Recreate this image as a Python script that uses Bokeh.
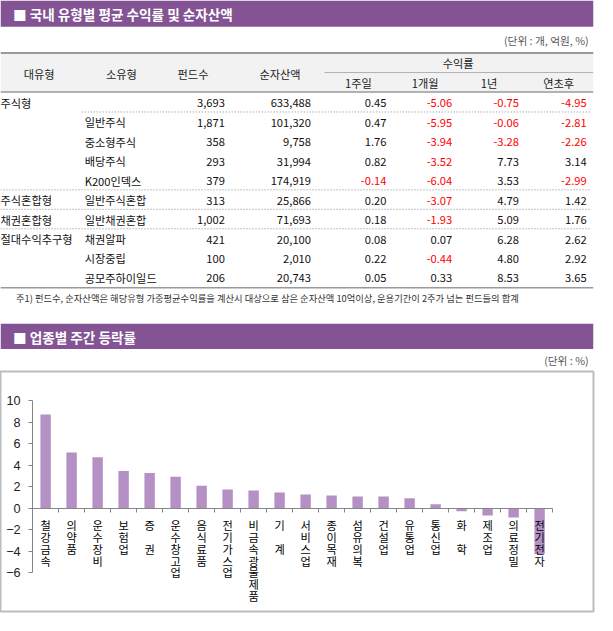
import numpy as np
from bokeh.plotting import figure
from bokeh.models import Range1d, LinearAxis, FixedTicker
from bokeh.layouts import column
from bokeh.core.properties import value
from bokeh.embed import file_html
from bokeh.resources import INLINE

# ---------------- data ----------------
title1 = "■ 국내 유형별 평균 수익률 및 순자산액"
unit1 = "(단위 : 개, 억원, %)"
head_cols = ["대유형", "소유형", "펀드수", "순자산액"]
ret_head = "수익률"
ret_cols = ["1주일", "1개월", "1년", "연초후"]
major_type = ["주식형", "", "", "", "", "주식혼합형", "채권혼합형", "절대수익추구형", "", ""]
minor_type = ["", "일반주식", "중소형주식", "배당주식", "K200인덱스", "일반주식혼합",
              "일반채권혼합", "채권알파", "시장중립", "공모주하이일드"]
fund_count = [3693, 1871, 358, 293, 379, 313, 1002, 421, 100, 206]
net_assets = [633488, 101320, 9758, 31994, 174919, 25866, 71693, 20100, 2010, 20743]
ret_1w = [0.45, 0.47, 1.76, 0.82, -0.14, 0.20, 0.18, 0.08, 0.22, 0.05]
ret_1m = [-5.06, -5.95, -3.94, -3.52, -6.04, -3.07, -1.93, 0.07, -0.44, 0.33]
ret_1y = [-0.75, -0.06, -3.28, 7.73, 3.53, 4.79, 5.09, 6.28, 4.80, 8.53]
ret_ytd = [-4.95, -2.81, -2.26, 3.14, -2.99, 1.42, 1.76, 2.62, 2.92, 3.65]
note = "주1) 펀드수, 순자산액은 해당유형 가중평균수익률을 계산시 대상으로 삼은 순자산액 10억이상, 운용기간이 2주가 넘는 펀드들의 합계"

title2 = "■ 업종별 주간 등락률"
unit2 = "(단위 : %)"
sectors = ["철강금속", "의약품", "운수장비", "보험업", "증권", "운수창고업", "음식료품",
           "전기가스업", "비금속광물제품", "기계", "서비스업", "종이목재", "섬유의복",
           "건설업", "유통업", "통신업", "화학", "제조업", "의료정밀", "전기전자"]
sector_chg = [8.73, 5.18, 4.73, 3.45, 3.27, 2.91, 2.09, 1.73, 1.64, 1.45, 1.27, 1.18,
              1.09, 1.09, 0.91, 0.36, -0.30, -0.70, -0.88, -4.27]
y_ticks = [-6, -4, -2, 0, 2, 4, 6, 8, 10]

# ---------------- style / layout ----------------
REF_W = 613
S = 597 / REF_W
FONT = "Noto Sans CJK KR"
PURPLE = "#835394"
BAR = "#b490c4"
LINE = "#9a9a9a"


def fs(px):
    return f"{px * S:.1f}px"


# ---------------- top part: table ----------------
TOP_H = 378
p1 = figure(width=597, height=round(TOP_H * S), x_range=Range1d(0, REF_W),
            y_range=Range1d(TOP_H, 0), x_axis_type=None, y_axis_type=None,
            output_backend="svg", toolbar_location=None, min_border=0)
p1.outline_line_color = None
p1.grid.visible = False

# purple title bars, header background
p1.quad(left=[0, 0], right=[REF_W, REF_W], top=[0, 332], bottom=[27, 358],
        color=PURPLE, line_color=None)
p1.quad(left=[0], right=[REF_W], top=[54], bottom=[94], color="#f2f2f2", line_color=None)

# solid lines
p1.segment(x0=[0, 0, 335, 0], y0=[54, 94, 74, 295], x1=[REF_W] * 4, y1=[54, 94, 74, 295],
           line_color=[LINE, LINE, "#b0b0b0", LINE], line_width=[2, 1.5, 1, 1.5])
# dotted separators
p1.segment(x0=[84, 0, 0, 0], y0=[114.5, 194.5, 214.5, 234.5], x1=[611] * 4,
           y1=[114.5, 194.5, 214.5, 234.5], line_color="#8a8a8a", line_dash="1 2",
           line_width=1)

# titles
p1.text(x=[13, 13], y=[14, 345.5], text=[title1, title2], text_color="white",
        text_font=value(FONT), text_font_size=fs(14), text_font_style="bold",
        text_baseline="middle", text_align="left")
p1.text(x=[608, 608], y=[41, 370], text=[unit1, unit2], text_color="#555555",
        text_font=value(FONT), text_font_size=fs(11), text_baseline="middle",
        text_align="right")

# header labels
p1.text(x=[40, 125, 199, 289], y=[75] * 4, text=head_cols, text_color="#222222",
        text_font=value(FONT), text_font_size=fs(11.5), text_baseline="middle",
        text_align="center")
p1.text(x=[473], y=[64], text=[ret_head], text_color="#222222", text_font=value(FONT),
        text_font_size=fs(11.5), text_baseline="middle", text_align="center")
p1.text(x=[370, 439, 505, 577], y=[85] * 4, text=ret_cols, text_color="#222222",
        text_font=value(FONT), text_font_size=fs(11.5), text_baseline="middle",
        text_align="center")

# rows
n_rows = len(minor_type)
row_y = [105 + 20 * i for i in range(n_rows)]
p1.text(x=[0] * n_rows, y=row_y, text=major_type, text_color="#111111",
        text_font=value(FONT), text_font_size=fs(11.5), text_baseline="middle",
        text_align="left")
p1.text(x=[87] * n_rows, y=row_y, text=minor_type, text_color="#111111",
        text_font=value(FONT), text_font_size=fs(11.5), text_baseline="middle",
        text_align="left")
p1.text(x=[232] * n_rows, y=row_y, text=[f"{v:,}" for v in fund_count],
        text_color="#111111", text_font=value(FONT), text_font_size=fs(11.5),
        text_baseline="middle", text_align="right")
p1.text(x=[321] * n_rows, y=row_y, text=[f"{v:,}" for v in net_assets],
        text_color="#111111", text_font=value(FONT), text_font_size=fs(11.5),
        text_baseline="middle", text_align="right")
for xr, vals in zip([399, 467, 536, 606], [ret_1w, ret_1m, ret_1y, ret_ytd]):
    p1.text(x=[xr] * n_rows, y=row_y, text=[f"{v:.2f}" for v in vals],
            text_color=["#ff0000" if v < 0 else "#111111" for v in vals],
            text_font=value(FONT), text_font_size=fs(11.5), text_baseline="middle",
            text_align="right")

p1.text(x=[16], y=[306], text=[note], text_color="#333333", text_font=value(FONT),
        text_font_size=fs(9.6), text_baseline="middle", text_align="left")

# ---------------- bottom part: bar chart ----------------
CH_TOP, CH_BOT = 378, 631          # reference extent of the chart figure
BOX_T, BOX_B, BOX_R = 381, 627, 609  # chart box
AX_X, STEP = 33, 26.7               # y-axis position, category width (ref px)
ZERO_Y, UNIT = 521, 11.0            # y=0 position, px per unit (ref px)

ch_h = round((CH_BOT - CH_TOP) * S)
frame_h = round((BOX_B - BOX_T) * S)
top_b = round((BOX_T - CH_TOP) * S)
p2 = figure(width=597, height=ch_h,
            x_range=Range1d((0 - AX_X) / STEP, (BOX_R - AX_X) / STEP),
            y_range=Range1d((ZERO_Y - BOX_B) / UNIT, (ZERO_Y - BOX_T) / UNIT),
            x_axis_type=None, y_axis_type=None, output_backend="svg",
            toolbar_location=None, min_border_left=0,
            min_border_right=597 - round(BOX_R * S), min_border_top=top_b,
            min_border_bottom=ch_h - top_b - frame_h)
p2.grid.visible = False
p2.outline_line_color = "#bdbdbd"
p2.outline_line_width = 2

n = len(sectors)
centers = np.arange(n) + 0.5
p2.vbar(x=centers, top=sector_chg, bottom=0, width=0.4, color=BAR, line_color=None)

yaxis = LinearAxis(fixed_location=0, bounds=(min(y_ticks), max(y_ticks)),
                   ticker=FixedTicker(ticks=y_ticks))
yaxis.axis_line_color = "#868686"
yaxis.major_tick_line_color = "#868686"
yaxis.major_tick_out = 4
yaxis.major_tick_in = 0
yaxis.major_label_standoff = 8
yaxis.major_label_text_font = "Liberation Sans"
yaxis.major_label_text_font_size = fs(13)
yaxis.major_label_text_color = "#222222"
p2.add_layout(yaxis, "left")

boundaries = list(range(n + 1))
xaxis = LinearAxis(fixed_location=0, bounds=(0, n), ticker=FixedTicker(ticks=boundaries),
                   major_label_overrides={b: "" for b in boundaries})
xaxis.axis_line_color = "#868686"
xaxis.major_tick_line_color = "#868686"
xaxis.major_tick_out = 4
xaxis.major_tick_in = 0
p2.add_layout(xaxis, "below")

stacked = ["\n\n".join(s) if len(s) == 2 else "\n".join(s) for s in sectors]
p2.text(x=centers, y=[0] * n, text=stacked, text_align="center", text_baseline="top",
        y_offset=round(9 * S), text_font=value(FONT), text_font_size=fs(11.5),
        text_line_height=0.74, text_color="#000000")

layout = column(p1, p2, spacing=0)
open("out.html", "w").write(file_html(layout, INLINE))
